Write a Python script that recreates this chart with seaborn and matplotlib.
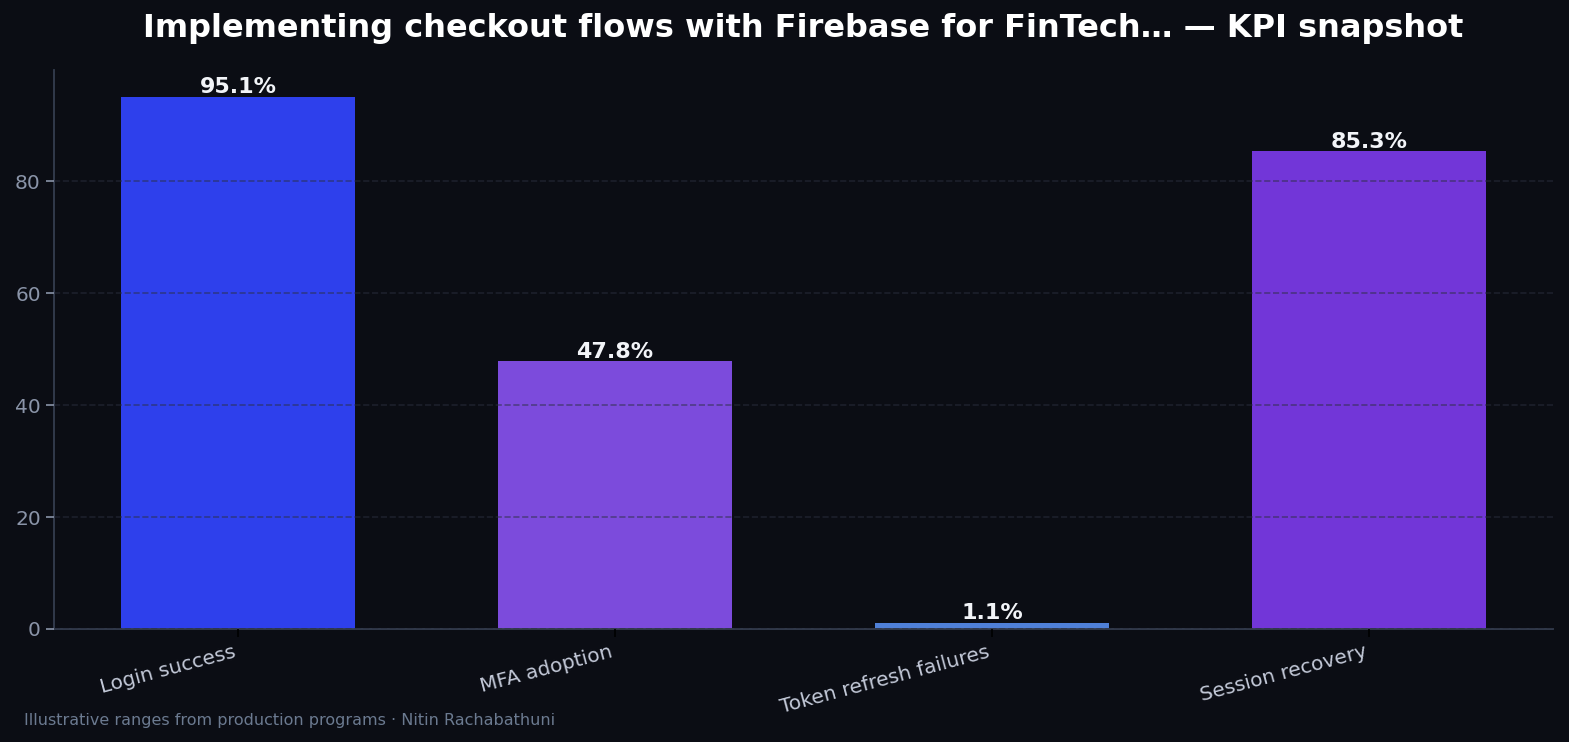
import matplotlib
matplotlib.use("Agg")
import matplotlib.pyplot as plt
import seaborn as sns
import pandas as pd

categories = ["Login success", "MFA adoption", "Token refresh failures", "Session recovery"]
values = [95.1, 47.8, 1.1, 85.3]
colors = ["#2e40ec", "#7c4bdc", "#4f80d8", "#7236d8"]

BG = "#0b0d14"
sns.set_theme(style="dark")
plt.rcParams["font.family"] = ["DejaVu Sans"]

fig = plt.figure(figsize=(15.69, 7.42), dpi=100, facecolor=BG)
ax = fig.add_axes([54/1569, 1-629/742, (1553-54)/1569, (629-70)/742])
ax.set_facecolor(BG)

df = pd.DataFrame({"cat": categories, "val": values})
sns.barplot(data=df, x="cat", y="val", hue="cat", palette=colors, legend=False,
            width=0.62, saturation=1, linewidth=0, edgecolor="none", ax=ax)

ax.set_xlim(-0.488, 3.488)
ax.set_ylim(0, 99.85)
ax.set_yticks([0, 20, 40, 60, 80])
ax.grid(axis="y", linestyle="--", color="#2a2f3f", alpha=0.55, linewidth=1.2)
ax.grid(axis="x", visible=False)
ax.set_axisbelow(False)
ax.set_xlabel("")
ax.set_ylabel("")

for s in ["top", "right"]:
    ax.spines[s].set_visible(False)
for s in ["left", "bottom"]:
    ax.spines[s].set_visible(True)
    ax.spines[s].set_color("#343d4f")
    ax.spines[s].set_linewidth(1.3)

ax.tick_params(axis="y", colors="#8a94a8", labelsize=14.5, length=6, left=True, width=1.2)
ax.tick_params(axis="x", colors="#000000", labelcolor="#c3c9d8", labelsize=14.5, length=6, bottom=True, width=1.2)
plt.setp(ax.get_xticklabels(), rotation=15, ha="right")

for i, v in enumerate(values):
    ax.text(i, v - 0.1, f"{v}%", ha="center", va="bottom", color="#f2f4f8",
            fontsize=16, fontweight="bold")

fig.text(803.5/1569, 1-28/742, "Implementing checkout flows with Firebase for FinTech… — KPI snapshot",
         ha="center", va="center", color="#ffffff", fontsize=23, fontweight="bold")
fig.text(24/1569, 1-720/742, "Illustrative ranges from production programs · Nitin Rachabathuni",
         ha="left", va="center", color="#6b7a90", fontsize=11.5)

fig.savefig("out.png", dpi=100, facecolor=BG)
